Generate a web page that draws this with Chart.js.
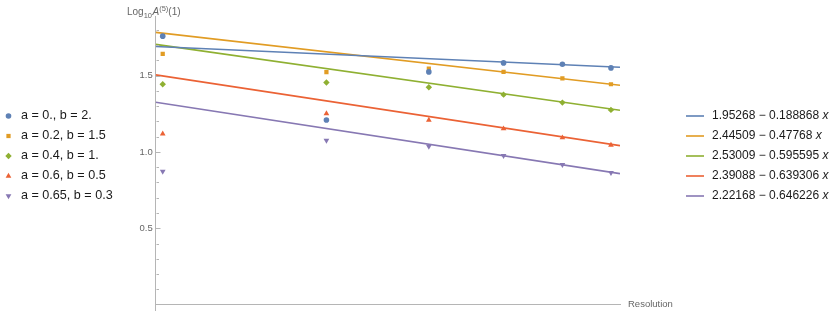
<!DOCTYPE html>
<html>
<head>
<meta charset="utf-8">
<script src="https://cdn.jsdelivr.net/npm/chart.js@4.4.1/dist/chart.umd.min.js"></script>
<style>
  html, body { margin: 0; padding: 0; background: #fff; }
  #wrap { width: 830px; height: 311px; }
</style>
</head>
<body>
<div id="wrap"><canvas id="chart" width="830" height="311"></canvas></div>
<script>
// ------------------------------------------
// data
// ------------------------------------------
const resolutions = [25, 45, 65, 85, 105, 125];

const seriesLabels = [
  'a = 0., b = 2.',
  'a = 0.2, b = 1.5',
  'a = 0.4, b = 1.',
  'a = 0.6, b = 0.5',
  'a = 0.65, b = 0.3'
];
const valuesA00 = [1.758, 1.209, 1.524, 1.583, 1.574, 1.550];
const valuesA02 = [1.642, 1.522, 1.546, 1.524, 1.482, 1.443];
const valuesA04 = [1.443, 1.454, 1.423, 1.375, 1.323, 1.275];
const valuesA06 = [1.119, 1.251, 1.209, 1.152, 1.093, 1.045];
const valuesA065 = [0.872, 1.075, 1.036, 0.975, 0.916, 0.864];

// fitted lines: intercept - slope * x
const fitIntercepts = [1.95268, 2.44509, 2.53009, 2.39088, 2.22168];
const fitSlopes = [0.188868, 0.47768, 0.595595, 0.639306, 0.646226];
const fitLabels = ['1.95268', '2.44509', '2.53009', '2.39088', '2.22168'];
const fitSlopeLabels = ['0.188868', '0.47768', '0.595595', '0.639306', '0.646226'];

const xRange = [1.387, 2.111];
const yRange = [-0.042, 1.89];
const yMajorTicks = [0.5, 1.0, 1.5];
const yMinorTicks = [0.1, 0.2, 0.3, 0.4, 0.6, 0.7, 0.8, 0.9, 1.1, 1.2, 1.3, 1.4, 1.6, 1.7, 1.8];

// ------------------------------------------
// styles
// ------------------------------------------
const COLORS = ['#5E81B5', '#E19C24', '#8FB032', '#EB6235', '#8778B3'];
const POINT_STYLES = ['circle', 'rect', 'rectRot', 'triangle', 'triangle'];
const POINT_ROT = [0, 0, 0, 0, 180];
const POINT_RADIUS = [2.8, 3, 3.2, 3.3, 3.3];
const AXIS_COLOR = '#b5b5b5';
const LABEL_COLOR = '#666';
const FONT = 'Liberation Sans, Arial, sans-serif';

const allValues = [valuesA00, valuesA02, valuesA04, valuesA06, valuesA065];
const logRes = resolutions.map(r => Math.log10(r));

const pointSets = allValues.map((vals, i) => ({
  type: 'scatter',
  label: seriesLabels[i],
  data: vals.map((v, j) => ({ x: logRes[j], y: v })),
  pointStyle: POINT_STYLES[i],
  rotation: POINT_ROT[i],
  pointRadius: POINT_RADIUS[i],
  pointBorderWidth: 0,
  backgroundColor: COLORS[i],
  borderColor: COLORS[i],
  showLine: false,
  order: 1
}));

const lineSets = fitIntercepts.map((a, i) => ({
  type: 'line',
  label: fitLabels[i],
  data: xRange.map(x => ({ x: x, y: a - fitSlopes[i] * x })),
  borderColor: COLORS[i],
  borderWidth: 1.6,
  pointRadius: 0,
  tension: 0,
  order: 2
}));

function drawMarker(ctx, style, rot, r, x, y) {
  ctx.beginPath();
  if (style === 'circle') {
    ctx.arc(x, y, r, 0, Math.PI * 2);
  } else if (style === 'rect') {
    const s = r * Math.SQRT1_2;
    ctx.rect(x - s, y - s, 2 * s, 2 * s);
  } else if (style === 'rectRot') {
    ctx.moveTo(x, y - r); ctx.lineTo(x + r, y); ctx.lineTo(x, y + r); ctx.lineTo(x - r, y);
  } else {
    const d = rot ? -1 : 1;
    ctx.moveTo(x, y - d * r);
    ctx.lineTo(x + r * 0.866, y + d * r * 0.5);
    ctx.lineTo(x - r * 0.866, y + d * r * 0.5);
  }
  ctx.closePath();
  ctx.fill();
}

const decorPlugin = {
  id: 'decor',
  afterDraw(chart) {
    const ctx = chart.ctx;
    const area = chart.chartArea;
    const ys = chart.scales.y;
    ctx.save();

    // tick marks inside the axis
    ctx.strokeStyle = AXIS_COLOR;
    ctx.lineWidth = 1;
    const ax = Math.round(area.left) + 0.5;
    yMajorTicks.forEach(v => {
      const py = Math.round(ys.getPixelForValue(v)) + 0.5;
      ctx.beginPath(); ctx.moveTo(ax - 1, py); ctx.lineTo(ax + 4, py); ctx.stroke();
    });
    yMinorTicks.forEach(v => {
      const py = Math.round(ys.getPixelForValue(v)) + 0.5;
      ctx.beginPath(); ctx.moveTo(ax, py); ctx.lineTo(ax + 2.5, py); ctx.stroke();
    });

    // axis titles
    ctx.fillStyle = LABEL_COLOR;
    ctx.textBaseline = 'alphabetic';
    ctx.textAlign = 'left';
    let x = 127;
    const base = 15;
    const parts = [
      ['Log', '10px', 0],
      ['10', '7.5px', 2.5],
      ['A', 'italic 10px', 0],
      ['(5)', '7.5px', -4.5],
      ['(1)', '10px', 0]
    ];
    parts.forEach(p => {
      ctx.font = p[1] + ' ' + FONT;
      ctx.fillText(p[0], x, base + p[2]);
      x += ctx.measureText(p[0]).width + (p[0] === '10' ? 0.5 : 0);
    });

    ctx.font = '9.5px ' + FONT;
    ctx.textBaseline = 'middle';
    ctx.fillText('Resolution', area.right + 8, ys.getPixelForValue(0));

    // left legend: markers
    ctx.font = '12.6px ' + FONT;
    seriesLabels.forEach((lab, i) => {
      const ry = 116 + 20 * i;
      ctx.fillStyle = COLORS[i];
      drawMarker(ctx, POINT_STYLES[i], POINT_ROT[i], POINT_RADIUS[i], 8.5, ry);
      ctx.fillStyle = '#1a1a1a';
      ctx.fillText(lab, 21, ry);
    });

    // right legend: fitted lines
    fitLabels.forEach((lab, i) => {
      const ry = 116 + 20 * i;
      ctx.strokeStyle = COLORS[i];
      ctx.lineWidth = 1.6;
      ctx.beginPath(); ctx.moveTo(686, ry); ctx.lineTo(704, ry); ctx.stroke();
      ctx.fillStyle = '#1a1a1a';
      ctx.font = '12px ' + FONT;
      const txt = lab + ' \u2212 ' + fitSlopeLabels[i] + ' ';
      ctx.fillText(txt, 712, ry);
      const w = ctx.measureText(txt).width;
      ctx.font = 'italic 12px ' + FONT;
      ctx.fillText('x', 712 + w, ry);
    });

    ctx.restore();
  }
};

new Chart(document.getElementById('chart'), {
  type: 'scatter',
  data: { datasets: pointSets.concat(lineSets) },
  options: {
    responsive: false,
    animation: false,
    devicePixelRatio: 1,
    layout: { autoPadding: false, padding: { left: 120, right: 210, top: 16, bottom: 0 } },
    plugins: {
      legend: { display: false },
      tooltip: { enabled: false },
      title: { display: false }
    },
    scales: {
      x: {
        type: 'linear',
        min: xRange[0],
        max: xRange[1],
        position: { y: 0 },
        grid: { display: false, drawTicks: false },
        ticks: { display: false, padding: 0 },
        border: { display: true, color: AXIS_COLOR, width: 1 },
        afterFit: s => { s.height = 0; s.paddingLeft = 0; s.paddingRight = 0; }
      },
      y: {
        type: 'linear',
        min: yRange[0],
        max: yRange[1],
        grid: { display: false, drawTicks: false },
        border: { display: true, color: AXIS_COLOR, width: 1 },
        afterBuildTicks: s => { s.ticks = yMajorTicks.map(v => ({ value: v })); },
        afterFit: s => { s.width = 35.7; s.paddingTop = 0; s.paddingBottom = 0; },
        ticks: {
          padding: 3,
          color: LABEL_COLOR,
          font: { family: FONT, size: 9.5 },
          callback: v => v.toFixed(1)
        }
      }
    }
  },
  plugins: [decorPlugin]
});
</script>
</body>
</html>
